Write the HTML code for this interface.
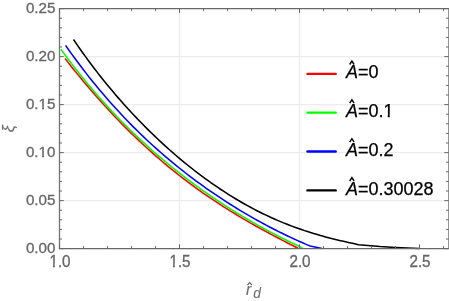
<!DOCTYPE html>
<html><head><meta charset="utf-8"><title>plot</title><style>html,body{margin:0;padding:0;background:#fff;width:449px;height:301px;overflow:hidden}</style></head><body>
<svg width="449" height="301" viewBox="0 0 449 301" style="position:absolute;left:0;top:0;will-change:transform">
<rect width="449" height="301" fill="#fff"/>
<path d="M59.5,200.64H448.6 M59.5,152.63H448.6 M59.5,104.62H448.6 M59.5,56.61H448.6 M179.50,8.6V248.65 M299.50,8.6V248.65" stroke="#ececec" stroke-width="1.4" fill="none"/>
<path d="M65.10,58.53 L68.10,62.37 L71.10,66.16 L74.10,69.91 L77.10,73.62 L80.10,77.28 L83.10,80.90 L86.10,84.48 L89.10,88.01 L92.10,91.50 L95.10,94.95 L98.10,98.36 L101.10,101.72 L104.10,105.05 L107.10,108.33 L110.10,111.57 L113.10,114.76 L116.10,117.92 L119.10,121.03 L122.10,124.11 L125.10,127.14 L128.10,130.14 L131.10,133.09 L134.10,136.01 L137.10,138.88 L140.10,141.72 L143.10,144.52 L146.10,147.28 L149.10,150.00 L152.10,152.69 L155.10,155.34 L158.10,157.95 L161.10,160.52 L164.10,163.06 L167.10,165.57 L170.10,168.04 L173.10,170.47 L176.10,172.87 L179.10,175.24 L182.10,177.57 L185.10,179.87 L188.10,182.14 L191.10,184.38 L194.10,186.59 L197.10,188.76 L200.10,190.91 L203.10,193.02 L206.10,195.11 L209.10,197.17 L212.10,199.20 L215.10,201.20 L218.10,203.17 L221.10,205.12 L224.10,207.05 L227.10,208.95 L230.10,210.82 L233.10,212.67 L236.10,214.50 L239.10,216.31 L242.10,218.09 L245.10,219.85 L248.10,221.59 L251.10,223.32 L254.10,225.02 L257.10,226.71 L260.10,228.37 L263.10,230.03 L266.10,231.66 L269.10,233.28 L272.10,234.89 L275.10,236.48 L278.10,238.06 L281.10,239.63 L284.10,241.18 L287.10,242.73 L290.10,244.26 L293.10,245.79 L296.10,247.31 L298.06,248.30" stroke="#ff0000" stroke-width="1.55" fill="none" stroke-linejoin="round" stroke-linecap="butt"/>
<path d="M60.90,49.25 L63.90,53.37 L66.90,57.43 L69.90,61.43 L72.90,65.36 L75.90,69.24 L78.90,73.05 L81.90,76.80 L84.90,80.50 L87.90,84.14 L90.90,87.73 L93.90,91.26 L96.90,94.73 L99.90,98.16 L102.90,101.53 L105.90,104.86 L108.90,108.13 L111.90,111.36 L114.90,114.53 L117.90,117.67 L120.90,120.75 L123.90,123.80 L126.90,126.79 L129.90,129.75 L132.90,132.67 L135.90,135.54 L138.90,138.37 L141.90,141.16 L144.90,143.92 L147.90,146.64 L150.90,149.32 L153.90,151.96 L156.90,154.57 L159.90,157.14 L162.90,159.68 L165.90,162.18 L168.90,164.66 L171.90,167.09 L174.90,169.50 L177.90,171.88 L180.90,174.22 L183.90,176.54 L186.90,178.82 L189.90,181.08 L192.90,183.31 L195.90,185.51 L198.90,187.68 L201.90,189.83 L204.90,191.94 L207.90,194.03 L210.90,196.10 L213.90,198.14 L216.90,200.15 L219.90,202.14 L222.90,204.11 L225.90,206.05 L228.90,207.96 L231.90,209.85 L234.90,211.72 L237.90,213.57 L240.90,215.39 L243.90,217.18 L246.90,218.96 L249.90,220.71 L252.90,222.44 L255.90,224.15 L258.90,225.83 L261.90,227.49 L264.90,229.13 L267.90,230.75 L270.90,232.35 L273.90,233.92 L276.90,235.47 L279.90,237.00 L282.90,238.50 L285.90,239.98 L288.90,241.44 L291.90,242.88 L294.90,244.29 L297.90,245.68 L298.70,246.05 L302.70,248.40" stroke="#00ff00" stroke-width="1.55" fill="none" stroke-linejoin="round" stroke-linecap="butt"/>
<path d="M65.60,45.41 L68.60,49.68 L71.60,53.87 L74.60,58.00 L77.60,62.06 L80.60,66.05 L83.60,69.98 L86.60,73.85 L89.60,77.65 L92.60,81.40 L95.60,85.09 L98.60,88.72 L101.60,92.29 L104.60,95.80 L107.60,99.26 L110.60,102.67 L113.60,106.02 L116.60,109.32 L119.60,112.57 L122.60,115.77 L125.60,118.93 L128.60,122.03 L131.60,125.09 L134.60,128.10 L137.60,131.06 L140.60,133.98 L143.60,136.86 L146.60,139.69 L149.60,142.49 L152.60,145.24 L155.60,147.95 L158.60,150.62 L161.60,153.25 L164.60,155.84 L167.60,158.40 L170.60,160.92 L173.60,163.40 L176.60,165.85 L179.60,168.27 L182.60,170.64 L185.60,172.99 L188.60,175.30 L191.60,177.58 L194.60,179.83 L197.60,182.05 L200.60,184.24 L203.60,186.39 L206.60,188.52 L209.60,190.61 L212.60,192.68 L215.60,194.72 L218.60,196.73 L221.60,198.72 L224.60,200.68 L227.60,202.61 L230.60,204.51 L233.60,206.39 L236.60,208.24 L239.60,210.06 L242.60,211.86 L245.60,213.64 L248.60,215.39 L251.60,217.12 L254.60,218.82 L257.60,220.50 L260.60,222.15 L263.60,223.78 L266.60,225.38 L269.60,226.97 L272.60,228.52 L275.60,230.06 L278.60,231.57 L281.60,233.06 L284.60,234.53 L287.60,235.97 L290.60,237.39 L293.60,238.78 L296.60,240.16 L299.60,241.51 L302.60,242.83 L305.60,244.13 L308.60,245.41 L310.10,246.04 L322.10,248.40" stroke="#0000ff" stroke-width="1.55" fill="none" stroke-linejoin="round" stroke-linecap="butt"/>
<path d="M73.50,39.54 L76.50,43.93 L79.50,48.24 L82.50,52.48 L85.50,56.64 L88.50,60.73 L91.50,64.76 L94.50,68.71 L97.50,72.60 L100.50,76.43 L103.50,80.19 L106.50,83.89 L109.50,87.54 L112.50,91.12 L115.50,94.65 L118.50,98.13 L121.50,101.55 L124.50,104.91 L127.50,108.23 L130.50,111.50 L133.50,114.71 L136.50,117.88 L139.50,121.00 L142.50,124.07 L145.50,127.10 L148.50,130.08 L151.50,133.02 L154.50,135.92 L157.50,138.77 L160.50,141.57 L163.50,144.34 L166.50,147.06 L169.50,149.74 L172.50,152.38 L175.50,154.98 L178.50,157.54 L181.50,160.06 L184.50,162.54 L187.50,164.98 L190.50,167.38 L193.50,169.74 L196.50,172.06 L199.50,174.34 L202.50,176.58 L205.50,178.79 L208.50,180.96 L211.50,183.08 L214.50,185.17 L217.50,187.22 L220.50,189.24 L223.50,191.21 L226.50,193.15 L229.50,195.05 L232.50,196.91 L235.50,198.73 L238.50,200.52 L241.50,202.27 L244.50,203.98 L247.50,205.65 L250.50,207.29 L253.50,208.88 L256.50,210.45 L259.50,211.97 L262.50,213.46 L265.50,214.91 L268.50,216.32 L271.50,217.70 L274.50,219.05 L277.50,220.35 L280.50,221.63 L283.50,222.87 L286.50,224.07 L289.50,225.24 L292.50,226.38 L295.50,227.48 L298.50,228.56 L301.50,229.60 L304.50,230.61 L307.50,231.59 L310.50,232.54 L313.50,233.46 L316.50,234.36 L319.50,235.23 L322.50,236.07 L325.50,236.89 L328.50,237.69 L331.50,238.46 L334.50,239.21 L337.50,239.94 L340.50,240.66 L343.50,241.35 L346.50,242.03 L349.50,242.70 L352.50,243.36 L355.50,244.00 L358.50,244.64 L358.75,244.69 L380.00,246.60 L395.40,247.50 L419.40,248.50" stroke="#000000" stroke-width="1.55" fill="none" stroke-linejoin="round" stroke-linecap="butt"/>
<path d="M58.9,8.6H449.20000000000005 M58.9,248.65H449.20000000000005" fill="none" stroke="#686868" stroke-width="1.2"/>
<path d="M59.5,8.6V248.65" fill="none" stroke="#767676" stroke-width="1.35"/>
<path d="M448.8,8.6V248.65" fill="none" stroke="#808080" stroke-width="1.3"/>
<path d="M59.5,248.65h4.3 M448.6,248.65h-4.3 M59.5,239.05h2.5 M448.6,239.05h-2.5 M59.5,229.45h2.5 M448.6,229.45h-2.5 M59.5,219.84h2.5 M448.6,219.84h-2.5 M59.5,210.24h2.5 M448.6,210.24h-2.5 M59.5,200.64h4.3 M448.6,200.64h-4.3 M59.5,191.04h2.5 M448.6,191.04h-2.5 M59.5,181.44h2.5 M448.6,181.44h-2.5 M59.5,171.83h2.5 M448.6,171.83h-2.5 M59.5,162.23h2.5 M448.6,162.23h-2.5 M59.5,152.63h4.3 M448.6,152.63h-4.3 M59.5,143.03h2.5 M448.6,143.03h-2.5 M59.5,133.43h2.5 M448.6,133.43h-2.5 M59.5,123.82h2.5 M448.6,123.82h-2.5 M59.5,114.22h2.5 M448.6,114.22h-2.5 M59.5,104.62h4.3 M448.6,104.62h-4.3 M59.5,95.02h2.5 M448.6,95.02h-2.5 M59.5,85.42h2.5 M448.6,85.42h-2.5 M59.5,75.81h2.5 M448.6,75.81h-2.5 M59.5,66.21h2.5 M448.6,66.21h-2.5 M59.5,56.61h4.3 M448.6,56.61h-4.3 M59.5,47.01h2.5 M448.6,47.01h-2.5 M59.5,37.41h2.5 M448.6,37.41h-2.5 M59.5,27.80h2.5 M448.6,27.80h-2.5 M59.5,18.20h2.5 M448.6,18.20h-2.5 M59.5,8.60h4.3 M448.6,8.60h-4.3 M59.50,248.65v-4.3 M59.50,8.6v4.3 M83.50,248.65v-2.5 M83.50,8.6v2.5 M107.50,248.65v-2.5 M107.50,8.6v2.5 M131.50,248.65v-2.5 M131.50,8.6v2.5 M155.50,248.65v-2.5 M155.50,8.6v2.5 M179.50,248.65v-4.3 M179.50,8.6v4.3 M203.50,248.65v-2.5 M203.50,8.6v2.5 M227.50,248.65v-2.5 M227.50,8.6v2.5 M251.50,248.65v-2.5 M251.50,8.6v2.5 M275.50,248.65v-2.5 M275.50,8.6v2.5 M299.50,248.65v-4.3 M299.50,8.6v4.3 M323.50,248.65v-2.5 M323.50,8.6v2.5 M347.50,248.65v-2.5 M347.50,8.6v2.5 M371.50,248.65v-2.5 M371.50,8.6v2.5 M395.50,248.65v-2.5 M395.50,8.6v2.5 M419.50,248.65v-4.3 M419.50,8.6v4.3 M443.50,248.65v-2.5 M443.50,8.6v2.5" stroke="#666" stroke-width="1" fill="none"/>
<g font-family="Liberation Sans, sans-serif" font-size="15.2" fill="#666" stroke="#666" stroke-width="0.3">
<text transform="translate(55.5,253.45) scale(1,1.02)" text-anchor="end">0.00</text>
<text transform="translate(55.5,205.44) scale(1,1.02)" text-anchor="end">0.05</text>
<text transform="translate(55.5,157.43) scale(1,1.02)" text-anchor="end">0.10</text>
<text transform="translate(55.5,109.42) scale(1,1.02)" text-anchor="end">0.15</text>
<text transform="translate(55.5,61.41) scale(1,1.02)" text-anchor="end">0.20</text>
<text transform="translate(55.5,13.40) scale(1,1.02)" text-anchor="end">0.25</text>
<text transform="translate(60.00,266.5) scale(1,1.06)" text-anchor="middle">1.0</text>
<text transform="translate(180.00,266.5) scale(1,1.06)" text-anchor="middle">1.5</text>
<text transform="translate(300.00,266.5) scale(1,1.06)" text-anchor="middle">2.0</text>
<text transform="translate(420.00,266.5) scale(1,1.06)" text-anchor="middle">2.5</text>
</g>
<g font-family="Liberation Sans, sans-serif" fill="#6e6e6e" stroke="#6e6e6e" stroke-width="0.1" font-style="italic">
<text x="245.9" y="294.5" font-size="15.8">r</text>
<path d="M247.45,285.0 L249.7,282.7 L251.95,285.0" fill="none" stroke="#666" stroke-width="1.2"/>
<text x="253.2" y="298.2" font-size="13.8">d</text>
<text transform="translate(14.3,128.6) rotate(-90)" font-size="16" text-anchor="middle">ξ</text>
</g>
<path d="M307.5,73.9H335.7" stroke="#ff0000" stroke-width="2.4" stroke-linecap="round"/>
<text x="345.9" y="78.2" font-family="Liberation Sans, sans-serif" font-size="18" fill="#000" stroke="#000" stroke-width="0.25"><tspan font-style="italic">A</tspan>=0</text>
<path d="M349.7,64.5 l2.2,-3.4 l2.2,3.4" fill="none" stroke="#000" stroke-width="1.4"/>
<path d="M307.5,112.6H335.7" stroke="#00ff00" stroke-width="2.4" stroke-linecap="round"/>
<text x="345.9" y="116.9" font-family="Liberation Sans, sans-serif" font-size="18" fill="#000" stroke="#000" stroke-width="0.25"><tspan font-style="italic">A</tspan>=0.1</text>
<path d="M349.7,103.2 l2.2,-3.4 l2.2,3.4" fill="none" stroke="#000" stroke-width="1.4"/>
<path d="M307.5,151.5H335.7" stroke="#0000ff" stroke-width="2.4" stroke-linecap="round"/>
<text x="345.9" y="155.8" font-family="Liberation Sans, sans-serif" font-size="18" fill="#000" stroke="#000" stroke-width="0.25"><tspan font-style="italic">A</tspan>=0.2</text>
<path d="M349.7,142.1 l2.2,-3.4 l2.2,3.4" fill="none" stroke="#000" stroke-width="1.4"/>
<path d="M307.5,190.4H335.7" stroke="#000000" stroke-width="2.4" stroke-linecap="round"/>
<text x="345.9" y="194.7" font-family="Liberation Sans, sans-serif" font-size="18" fill="#000" stroke="#000" stroke-width="0.25"><tspan font-style="italic">A</tspan>=0.30028</text>
<path d="M349.7,181.0 l2.2,-3.4 l2.2,3.4" fill="none" stroke="#000" stroke-width="1.4"/>
<rect x="38.80" y="154.92" width="3.34" height="4.16" fill="#fff"/><rect x="44.03" y="154.92" width="3.23" height="4.16" fill="#fff"/>
<rect x="38.80" y="106.91" width="3.34" height="4.16" fill="#fff"/><rect x="44.03" y="106.91" width="3.23" height="4.16" fill="#fff"/>
<rect x="49.64" y="263.95" width="3.34" height="4.20" fill="#fff"/><rect x="54.87" y="263.95" width="3.23" height="4.20" fill="#fff"/>
<rect x="169.64" y="263.95" width="3.34" height="4.20" fill="#fff"/><rect x="174.87" y="263.95" width="3.23" height="4.20" fill="#fff"/>
<rect x="383.88" y="114.23" width="3.84" height="4.29" fill="#fff"/><rect x="389.79" y="114.23" width="3.69" height="4.29" fill="#fff"/>
</svg>
</body></html>
